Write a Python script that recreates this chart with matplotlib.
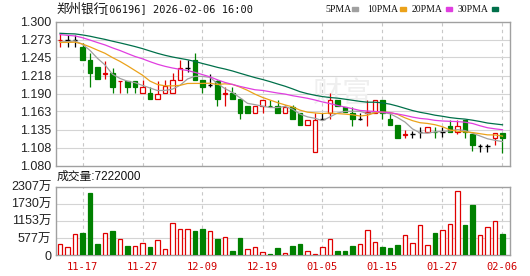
import numpy as np
import pandas as pd
import matplotlib
matplotlib.use('Agg')
import matplotlib.pyplot as plt
from matplotlib.patches import Rectangle

# closes before the visible window, only used to warm up the moving averages
prior_close = [1.290, 1.283, 1.288, 1.281, 1.286, 1.292, 1.284, 1.287, 1.283, 1.286,
               1.295, 1.290, 1.296, 1.293, 1.288, 1.294, 1.291, 1.290, 1.293, 1.290,
               1.272, 1.268, 1.2695, 1.265, 1.2615, 1.270, 1.266, 1.268, 1.268]

open_ = [1.2710, 1.2720, 1.2720, 1.2615, 1.2415, 1.2310, 1.2205, 1.2218, 1.2090, 1.2097,
         1.2097, 1.1910, 1.1910, 1.1810, 1.1910, 1.1910, 1.2105, 1.2295, 1.2415, 1.2105,
         1.2035, 1.2095, 1.1900, 1.1915, 1.1810, 1.1709, 1.1607, 1.1709, 1.1712, 1.1709,
         1.1607, 1.1689, 1.1597, 1.1419, 1.1011, 1.1506, 1.1607, 1.1801, 1.1698, 1.1607,
         1.1506, 1.1607, 1.1607, 1.1801, 1.1506, 1.1419, 1.1270, 1.1277, 1.1307, 1.1307,
         1.1318, 1.1314, 1.1408, 1.1316, 1.1495, 1.1277, 1.1102, 1.1102, 1.1215, 1.1292]
close = [1.2720, 1.2720, 1.2720, 1.2415, 1.2215, 1.2115, 1.2218, 1.2005, 1.2097, 1.2005,
         1.2005, 1.2005, 1.1810, 1.1900, 1.2015, 1.2105, 1.2295, 1.2295, 1.2105, 1.2005,
         1.2035, 1.1810, 1.1915, 1.1810, 1.1607, 1.1607, 1.1709, 1.1800, 1.1705, 1.1607,
         1.1689, 1.1506, 1.1419, 1.1495, 1.1495, 1.1506, 1.1801, 1.1709, 1.1622, 1.1506,
         1.1506, 1.1622, 1.1801, 1.1607, 1.1419, 1.1215, 1.1277, 1.1277, 1.1307, 1.1393,
         1.1312, 1.1314, 1.1316, 1.1408, 1.1316, 1.1113, 1.1102, 1.1102, 1.1292, 1.1215]
high = [1.2810, 1.2790, 1.2800, 1.2670, 1.2515, 1.2310, 1.2400, 1.2290, 1.2097, 1.2097,
        1.2097, 1.2105, 1.1995, 1.2095, 1.2105, 1.2220, 1.2415, 1.2415, 1.2515, 1.2105,
        1.2205, 1.2110, 1.1995, 1.1995, 1.1810, 1.1709, 1.1709, 1.1800, 1.1800, 1.1800,
        1.1730, 1.1720, 1.1597, 1.1495, 1.1597, 1.1597, 1.1903, 1.1801, 1.1698, 1.1698,
        1.1607, 1.1801, 1.1801, 1.1801, 1.1607, 1.1419, 1.1342, 1.1330, 1.1393, 1.1393,
        1.1393, 1.1393, 1.1495, 1.1495, 1.1495, 1.1277, 1.1134, 1.1134, 1.1292, 1.1292]
low = [1.2615, 1.2615, 1.2615, 1.2415, 1.2005, 1.2115, 1.2115, 1.1910, 1.1910, 1.1910,
       1.1910, 1.1910, 1.1810, 1.1810, 1.1910, 1.1910, 1.2105, 1.2235, 1.2105, 1.1910,
       1.1995, 1.1710, 1.1710, 1.1810, 1.1506, 1.1607, 1.1607, 1.1607, 1.1705, 1.1607,
       1.1607, 1.1506, 1.1419, 1.1419, 1.1011, 1.1490, 1.1506, 1.1709, 1.1622, 1.1403,
       1.1490, 1.1403, 1.1607, 1.1506, 1.1419, 1.1215, 1.1215, 1.1215, 1.1215, 1.1307,
       1.1215, 1.1240, 1.1316, 1.1277, 1.1215, 1.1021, 1.1011, 1.1011, 1.1113, 1.0986]

# volume in 万股
volume = [368, 256, 702, 746, 2083, 368, 757, 802, 524, 301,
          301, 390, 267, 501, 200, 1069, 891, 869, 802, 869,
          824, 535, 601, 145, 568, 200, 267, 100, 33, 234,
          78, 301, 368, 134, 33, 256, 524, 134, 134, 301,
          368, 836, 434, 267, 234, 334, 668, 401, 1003, 334,
          735, 836, 1036, 2139, 1003, 1682, 668, 936, 1136, 722.2]
vol_up = [1, 1, 1, 0, 0, 0, 1, 0, 1, 0,
          1, 1, 0, 1, 1, 1, 1, 1, 0, 0,
          1, 0, 1, 0, 0, 1, 1, 1, 0, 0,
          1, 0, 0, 1, 1, 1, 1, 0, 0, 0,
          1, 1, 1, 0, 0, 0, 1, 1, 1, 1,
          0, 1, 1, 1, 0, 0, 1, 1, 1, 0]

holidays = ['2025-12-25', '2025-12-26', '2026-01-01']
price_ticks = [1.080, 1.1075, 1.135, 1.1625, 1.190, 1.2175, 1.245, 1.2725, 1.300]
price_tick_labels = ['1.080', '1.108', '1.135', '1.163', '1.190', '1.218', '1.245', '1.273', '1.300']
vol_ticks = [0, 576.75, 1153.5, 1730.25, 2307]
vol_tick_labels = ['0', '577万', '1153万', '1730万', '2307万']
date_tick_labels = ['11-17', '11-27', '12-09', '12-19', '01-05', '01-15', '01-27', '02-06']
ma_windows = [5, 10, 20, 30]
ma_names = ['5PMA', '10PMA', '20PMA', '30PMA']
ma_colors = ['#a0a0a0', '#eba21a', '#e03ee0', '#00704a']

RED = '#e00000'
GREEN = '#008000'
GRID = '#d4d4d4'
FRAME = '#a0a0a0'
CJK = 'Noto Sans CJK SC'

dates = pd.bdate_range('2025-11-12', '2026-02-06')
dates = dates[~dates.isin(pd.to_datetime(holidays))]
date_str = list(dates.strftime('%m-%d'))
x = np.arange(len(close))
date_ticks = [date_str.index(d) for d in date_tick_labels]

full = pd.Series(prior_close + close)
mas = [full.rolling(w).mean().iloc[len(prior_close):].values for w in ma_windows]

W, H = 530, 276
fig = plt.figure(figsize=(W / 100, H / 100), dpi=100)
fig.patch.set_facecolor('white')

ax = fig.add_axes([55.5 / W, 1 - 165.5 / H, 454.5 / W, 144 / H])
ax2 = fig.add_axes([55.5 / W, 1 - 255 / H, 454.5 / W, 68.5 / H])

bw = 0.65
for a in (ax, ax2):
    a.set_xlim(-0.6, len(close))
    for s in a.spines.values():
        s.set_color(FRAME)
        s.set_linewidth(1.0)
    a.tick_params(length=0, pad=3, labelcolor='#222222')
    for t in date_ticks:
        a.axvline(t, color='#c8c8c8', lw=0.8, ls=(0, (3, 3)), zorder=0)

# price panel
ax.set_ylim(1.080, 1.300)
ax.set_yticks(price_ticks)
ax.set_yticklabels(price_tick_labels, family='Liberation Sans', fontsize=9)
ax.set_xticks([])
for v in price_ticks[1:-1]:
    ax.axhline(v, color=GRID, lw=0.8, zorder=0)

ax.text(0.63, 0.5, '财富', transform=ax.transAxes, family=CJK, fontsize=21,
        color='#efefef', ha='center', va='center', zorder=0)

for i in x:
    o, c = open_[i], close[i]
    if c > o:
        col, face = RED, 'white'
    elif c < o:
        col, face = GREEN, GREEN
    else:
        col, face = 'black', None
    ax.vlines(i, low[i], high[i], color=col, lw=0.9, zorder=2)
    if face is None:
        ax.hlines(c, i - bw / 2, i + bw / 2, color=col, lw=1.0, zorder=3)
    else:
        ax.bar(i, abs(c - o), bw, bottom=min(o, c), color=face,
               edgecolor=col, lw=0.9, zorder=3)

for m, col in zip(mas, ma_colors):
    ax.plot(x, m, color=col, lw=0.9, zorder=4)

# volume panel
ax2.set_ylim(0, vol_ticks[-1])
ax2.set_yticks(vol_ticks)
ax2.set_yticklabels(vol_tick_labels, family=['Liberation Sans', CJK], fontsize=9)
for v in vol_ticks[1:-1]:
    ax2.axhline(v, color=GRID, lw=0.8, zorder=0)
faces = ['white' if u else GREEN for u in vol_up]
edges = [RED if u else GREEN for u in vol_up]
ax2.bar(x, volume, bw, color=faces, edgecolor=edges, lw=0.9, zorder=3)
ax2.set_xticks(date_ticks)
ax2.set_xticklabels(date_tick_labels, family='DejaVu Sans Mono', fontsize=7.5, color='#d00000')
ax2.tick_params(axis='x', pad=5)

# header texts
fig.text(56 / W, 1 - 9 / H, '郑州银行', family=CJK, fontsize=9, va='center', color='#111111')
fig.text(103 / W, 1 - 9 / H, '[06196] 2026-02-06 16:00', family='DejaVu Sans Mono',
         fontsize=7.5, va='center', color='#111111')
fig.text(57 / W, 1 - 177 / H, f'成交量:{int(round(volume[-1] * 10000))}',
         family=['Liberation Sans', CJK], fontsize=8.5, va='center', color='#111111')

label_x = [325, 367, 412, 458]
marker_x = [352, 400, 446, 492]
for name, col, lx, mx in zip(ma_names, ma_colors, label_x, marker_x):
    fig.text(lx / W, 1 - 9 / H, name, family='Liberation Serif', fontsize=7,
             va='center', color='#111111')
    fig.patches.append(Rectangle((mx / W, 1 - 10.5 / H), 6 / W, 3 / H,
                                 transform=fig.transFigure, color=col))

fig.savefig('out.png', dpi=100)
